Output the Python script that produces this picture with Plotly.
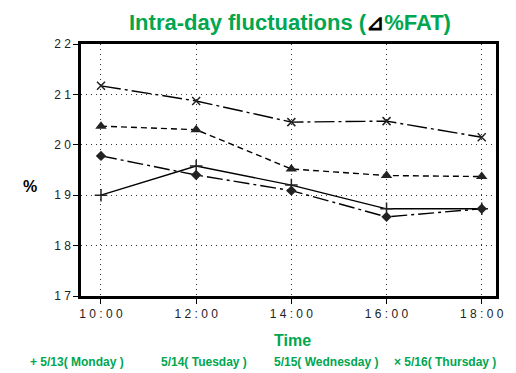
import plotly.graph_objects as go

# Sampling times and %FAT readings for each day
times = ["10:00", "12:00", "14:00", "16:00", "18:00"]
time_labels = ["1 0 : 0 0", "1 2 : 0 0", "1 4 : 0 0", "1 6 : 0 0", "1 8 : 0 0"]
monday = [19.00, 19.58, 19.20, 18.73, 18.73]
tuesday = [19.78, 19.40, 19.09, 18.57, 18.73]
wednesday = [20.37, 20.30, 19.52, 19.39, 19.37]
thursday = [21.17, 20.87, 20.45, 20.47, 20.15]

y_ticks = [17, 18, 19, 20, 21, 22]
y_tick_labels = ["1 7", "1 8", "1 9", "2 0", "2 1", "2 2"]

legend_labels = ["+ 5/13( Monday )", "5/14( Tuesday )", "5/15( Wednesday )", "× 5/16( Thursday )"]
legend_x = [27, 160, 274, 395]

GREEN = "#00a650"
SANS = "Liberation Sans, Arial"

xi = list(range(len(times)))

series = [
    (monday, "solid", "cross-thin", 9, 1.5),
    (tuesday, "16px,4px,3px,4px", "diamond", 8, 0),
    (wednesday, "6px,4px", "triangle-up", 10, 0),
    (thursday, "20px,4px,3px,4px", "x-thin", 8, 1.5),
]

fig = go.Figure()
for vals, dash, sym, size, mlw in series:
    fig.add_trace(go.Scatter(
        x=xi, y=vals, mode="lines+markers",
        line=dict(color="black", width=1.4, dash=dash),
        marker=dict(symbol=sym, size=size, color="#222",
                    line=dict(color="#222", width=mlw)),
        showlegend=False,
    ))

axis_common = dict(
    showline=True, linecolor="black", linewidth=2.5, mirror=True,
    showgrid=True, gridcolor="#333", griddash="1px,4px", gridwidth=1,
    ticks="outside", ticklen=5, tickcolor="black", zeroline=False,
    tickfont=dict(family=SANS, size=12, color="#222"),
)

fig.update_xaxes(
    range=[-0.21, 4.15], tickvals=xi, ticktext=time_labels, **axis_common,
)
fig.update_yaxes(
    range=[17, 22], tickvals=y_ticks, ticktext=y_tick_labels, **axis_common,
)

annotations = [
    dict(text='<b>Intra-day fluctuations (<span style="color:black">⊿</span>%FAT)</b>',
         x=292, y=22, showarrow=False,
         font=dict(family=SANS, size=22, color=GREEN)),
    dict(text="<b>Time</b>", x=295, y=340, showarrow=False,
         font=dict(family=SANS, size=16, color=GREEN)),
    dict(text="<b>%</b>", x=30, y=186, showarrow=False,
         font=dict(family=SANS, size=16, color="black")),
]
for lbl, lx in zip(legend_labels, legend_x):
    annotations.append(dict(text="<b>" + lbl + "</b>", x=lx, y=362, xanchor="left",
                            showarrow=False,
                            font=dict(family=SANS, size=12, color=GREEN)))

# convert pixel positions into paper coordinates
W, H = 516, 373
L, R, T, B = 81, 16, 44, 77
pw, ph = W - L - R, H - T - B
for a in annotations:
    a["xref"] = "paper"
    a["yref"] = "paper"
    a["x"] = (a["x"] - L) / pw
    a["y"] = 1 - (a["y"] - T) / ph
    a["yanchor"] = "middle"
    a.setdefault("xanchor", "center")

fig.update_layout(
    width=W, height=H,
    margin=dict(l=L, r=R, t=T, b=B),
    paper_bgcolor="white", plot_bgcolor="white",
    annotations=annotations,
)

fig.write_html("out.html")
